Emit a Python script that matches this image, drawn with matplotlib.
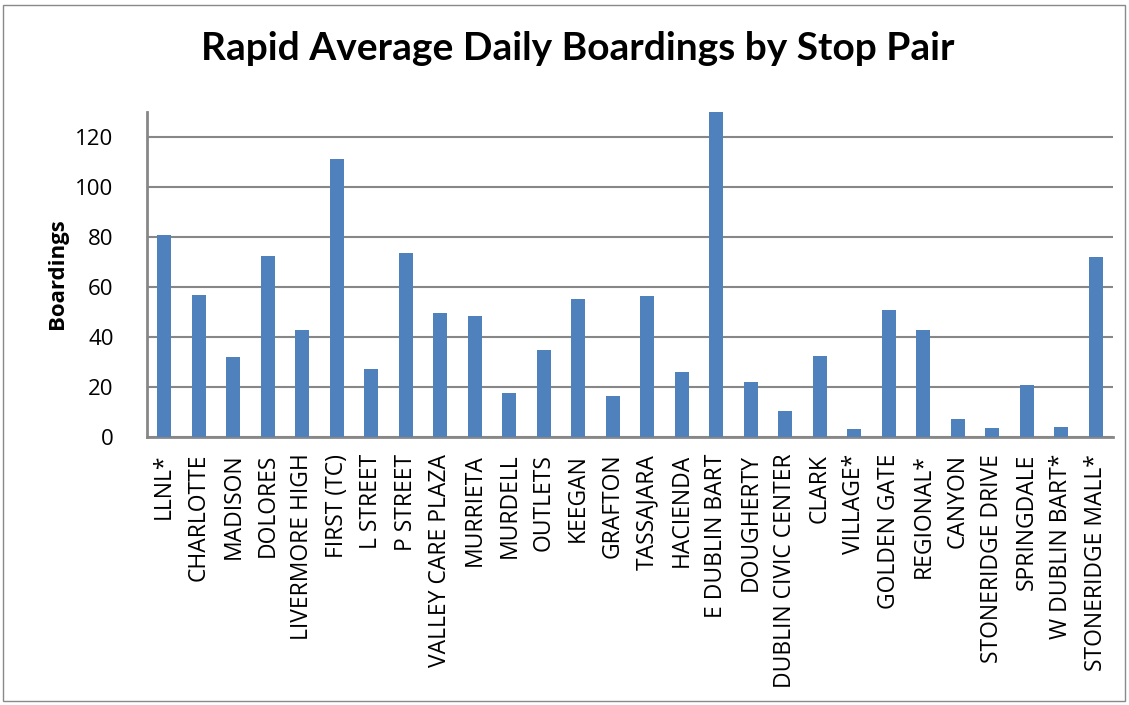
import matplotlib
matplotlib.use("Agg")
import matplotlib.pyplot as plt
from matplotlib.patches import Rectangle

categories = ["LLNL*", "CHARLOTTE", "MADISON", "DOLORES", "LIVERMORE HIGH", "FIRST (TC)",
              "L STREET", "P STREET", "VALLEY CARE PLAZA", "MURRIETA", "MURDELL", "OUTLETS",
              "KEEGAN", "GRAFTON", "TASSAJARA", "HACIENDA", "E DUBLIN BART", "DOUGHERTY",
              "DUBLIN CIVIC CENTER", "CLARK", "VILLAGE*", "GOLDEN GATE", "REGIONAL*", "CANYON",
              "STONERIDGE DRIVE", "SPRINGDALE", "W DUBLIN BART*", "STONERIDGE MALL*"]
boardings = [80.7, 56.9, 31.9, 72.4, 42.7, 111.3, 27.3, 73.6, 49.6, 48.5, 17.5, 34.7,
             55.2, 16.3, 56.5, 26.1, 130.0, 21.9, 10.3, 32.3, 3.2, 50.9, 42.7, 7.3,
             3.6, 20.9, 3.9, 71.9]
yticks = [0, 20, 40, 60, 80, 100, 120]

plt.rcParams['font.family'] = ['Open Sans', 'DejaVu Sans']

W, H = 1129, 705
fig = plt.figure(figsize=(W / 100, H / 100), dpi=100)
fig.patches.append(Rectangle((3 / W, 4 / H), 1122 / W, 696 / H, transform=fig.transFigure,
                             fill=False, edgecolor='#898989', linewidth=1.0))

ax = fig.add_axes([147 / W, 1 - 437 / H, (1113 - 147) / W, (437 - 112) / H])
grid_c = '#878787'
ax.bar(range(len(categories)), boardings, width=0.4, color='#4F81BD', zorder=3)
ax.set_xlim(-0.5, len(categories) - 0.5)
ax.set_ylim(0, 130)
ax.set_yticks(yticks)
ax.set_xticks(range(len(categories)))
ax.set_xticklabels(categories, rotation=90, fontsize=16.5)
ax.tick_params(axis='x', length=0, pad=12)
ax.tick_params(axis='y', length=0, pad=24, labelsize=16)
ax.yaxis.grid(True, color=grid_c, linewidth=1.5, zorder=0)
for s in ['top', 'right']:
    ax.spines[s].set_visible(False)
for s in ['left', 'bottom']:
    ax.spines[s].set_color(grid_c)
    ax.spines[s].set_linewidth(2)

fig.text(58 / W, 1 - 274 / H, "Boardings", rotation=90, ha='center', va='center',
         fontsize=16, fontweight='bold')

fig.text(578 / W, 1 - 48 / H, "Rapid Average Daily Boardings by Stop Pair",
         ha='center', va='center', fontsize=28, fontweight='bold', family=['Lato', 'DejaVu Sans'])

fig.savefig("out.png", dpi=100)
